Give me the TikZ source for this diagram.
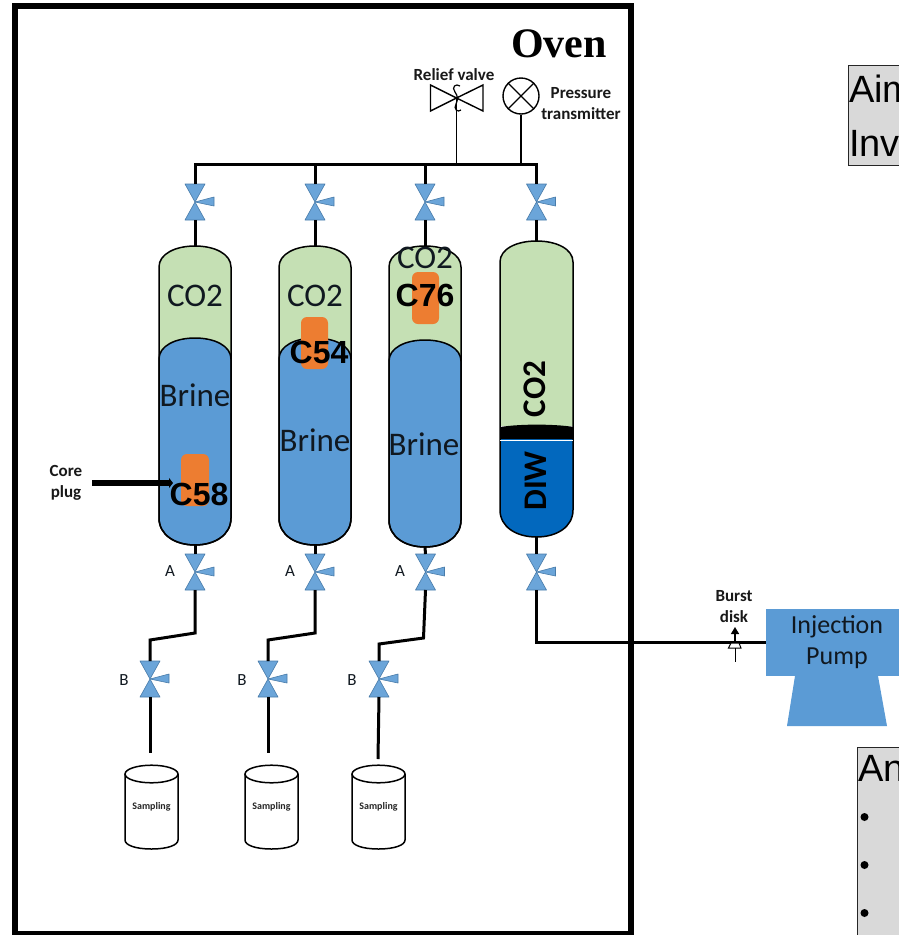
\documentclass[tikz,border=0pt]{standalone}
\usepackage{fontspec}
\setmainfont{Carlito}
\newfontfamily\serifbold{Liberation Serif}
\newfontfamily\arialfont{Liberation Sans}
\usetikzlibrary{arrows.meta}
\definecolor{vblue}{HTML}{5B9BD5}
\definecolor{vgreen}{HTML}{C5E0B4}
\definecolor{vdark}{HTML}{0268BE}
\definecolor{vorange}{HTML}{ED7D31}
\definecolor{vgrey}{HTML}{D9D9D9}
\definecolor{vtext}{HTML}{101820}
\tikzset{
  x=1pt,y=-1pt,
  pipe/.style={draw=black,line width=3pt,line join=miter},
  thinpipe/.style={draw=black,line width=1.4pt},
  valvebody/.style={fill=vblue!90,draw=vblue!80!black,line width=.6pt,line join=round},
  valvebox/.style={rectangle,minimum width=20pt,minimum height=36pt,inner sep=0pt,outer sep=0pt},
  shell/.style={draw=black,line width=1.5pt},
  lbl/.style={font=\fontsize{33}{33}\selectfont,text=vtext,inner sep=0pt},
  core/.style={font=\fontsize{32}{32}\selectfont\arialfont\bfseries,text=black,inner sep=0pt},
  small/.style={font=\fontsize{17}{21}\selectfont\bfseries,text=black!90,inner sep=0pt,align=center},
  tag/.style={font=\fontsize{17}{17}\selectfont,text=vtext,inner sep=0pt},
  samp/.style={font=\fontsize{10}{10}\selectfont\bfseries,text=black!85,inner sep=0pt},
  plug/.style={fill=vorange,rounded corners=6pt,draw=none},
  sidebox/.style={fill=vgrey,draw=black!85,line width=1pt},
  sidetext/.style={font=\fontsize{38}{38}\selectfont\arialfont,text=black,inner sep=0pt,anchor=west},
}
% capsule path: x-centre, half width, top y, bottom y
\newcommand{\capsule}[4]{
  (#1-#2,#3+21) .. controls (#1-#2,#3+8) and (#1-#2*0.55,#3) .. (#1,#3)
  .. controls (#1+#2*0.55,#3) and (#1+#2,#3+8) .. (#1+#2,#3+21)
  -- (#1+#2,#4-27) .. controls (#1+#2,#4-10) and (#1+#2*0.55,#4) .. (#1,#4)
  .. controls (#1-#2*0.55,#4) and (#1-#2,#4-10) .. (#1-#2,#4-27) -- cycle}
% valve: name, x, y
\newcommand{\valve}[3]{
  \node[valvebox] (#1) at (#2,#3) {};
  \path[valvebody] (#2-10,#3-18) -- (#2+10,#3-18) -- (#2,#3) -- (#2+10,#3+18) -- (#2-10,#3+18) -- (#2,#3) -- cycle;
  \path[valvebody] (#2,#3) -- (#2+19,#3-5) -- (#2+19,#3+4) -- cycle;
}
% sampling vessel: name, left x, right x
\newcommand{\sampler}[3]{
  \coordinate (#1) at ({(#2+#3)/2},765);
  \draw[line width=1.5pt,fill=white] (#2,774) -- (#2,840) .. controls (#2,845) and ({#2+10},849) .. ({(#2+#3)/2},849)
     .. controls ({#3-10},849) and (#3,845) .. (#3,840) -- (#3,774);
  \draw[line width=1.5pt,fill=white] ({(#2+#3)/2},774) ellipse (26.5pt and 8.8pt);
  \node[samp] at ({(#2+#3)/2},807) {Sampling};
}
\begin{document}
\begin{tikzpicture}
\useasboundingbox (0,0) rectangle (899,935);
\clip (0,0) rectangle (899,935);
\fill[white] (0,0) rectangle (899,935);

% oven wall
\draw[line width=6pt] (15,6) rectangle (631,934);
\node[font=\fontsize{42}{42}\selectfont\serifbold\bfseries,inner sep=0pt] (oven) at (559,44) {Oven};

% vessels
\begin{scope}
\clip \capsule{195}{36}{246}{545};
\fill[vgreen] (150,240) rectangle (240,550);
\end{scope}
\fill[vblue] \capsule{195}{36}{338}{545};
\draw[shell] \capsule{195}{36}{338}{545};
\draw[shell] \capsule{195}{36}{246}{545};
\coordinate (t1) at (195,246); \coordinate (b1) at (195,545);

\begin{scope}
\clip \capsule{315}{36}{246}{545};
\fill[vgreen] (270,240) rectangle (360,550);
\end{scope}
\fill[vblue] \capsule{315}{36}{338}{545};
\draw[shell] \capsule{315}{36}{338}{545};
\draw[shell] \capsule{315}{36}{246}{545};
\coordinate (t2) at (315,246); \coordinate (b2) at (315,545);

\begin{scope}
\clip \capsule{425}{36}{246}{547};
\fill[vgreen] (380,240) rectangle (470,550);
\end{scope}
\fill[vblue] \capsule{425}{36}{340}{547};
\draw[shell] \capsule{425}{36}{340}{547};
\draw[shell] \capsule{425}{36}{246}{547};
\coordinate (t3) at (425,246); \coordinate (b3) at (425,547);

\begin{scope}
\clip \capsule{536.5}{36.5}{241}{537};
\fill[vgreen] (495,235) rectangle (580,426);
\fill[vdark] (495,438) rectangle (580,540);
\fill[black] (495,428) .. controls (515,423.5) and (558,423.5) .. (580,428) -- (580,439) -- (495,439) -- cycle;
\end{scope}
\draw[shell] \capsule{536.5}{36.5}{241}{537};
\draw[white,line width=.8pt] (500,440) -- (573,440);
\coordinate (t4) at (536.5,241); \coordinate (b4) at (536.5,537);

% core plugs
\path[plug] (181,454) rectangle (209,506);
\path[plug] (301,317) rectangle (328,369);
\path[plug] (412,272) rectangle (439,324);

% vessel texts
\node[lbl] (co1) at (195,296) {CO2};
\node[lbl] (co2) at (315,296) {CO2};
\node[lbl] (co3) at (425,258) {CO2};
\node[lbl] (br1) at (195,395) {Brine};
\node[lbl] (br2) at (315,440) {Brine};
\node[lbl] (br3) at (424,444) {Brine};
\node[core] (c58) at (199,494) {C58};
\node[core] (c54) at (319,352) {C54};
\node[core] (c76) at (425,295) {C76};
\node[font=\fontsize{33}{33}\selectfont\bfseries,inner sep=0pt,rotate=90] (co4) at (535,389) {CO2};
\node[font=\fontsize{33}{33}\selectfont\bfseries,inner sep=0pt,rotate=90] (diw) at (536,481) {DIW};

% upper valves
\valve{vt1}{195}{202}
\valve{vt2}{315}{202}
\valve{vt3}{425}{202}
\valve{vt4}{536.5}{202}
% lower valves
\valve{va1}{195}{572}
\valve{va2}{315}{572}
\valve{va3}{425.5}{572}
\valve{va4}{536.5}{572}
\valve{vb1}{150}{679}
\valve{vb2}{268}{679}
\valve{vb3}{379}{679}

% header
\coordinate (h1) at (195,164);
\coordinate (h4) at (536.5,164);
\draw[pipe,line cap=rect] (h1) -- (h4);
\draw[pipe] (h1) -- (vt1.north);
\draw[pipe] (315,164) -- (vt2.north);
\draw[pipe] (425,164) -- (vt3.north);
\draw[pipe] (h4) -- (vt4.north);
\draw[pipe] (vt1.south) -- (t1);
\draw[pipe] (vt2.south) -- (t2);
\draw[pipe] (vt3.south) -- (t3);
\draw[pipe] (vt4.south) -- (t4);
\draw[pipe] (b1) -- (va1.north);
\draw[pipe] (b2) -- (va2.north);
\draw[pipe] (b3) -- (va3.north);
\draw[pipe] (b4) -- (va4.north);

% drains
\draw[pipe] (va1.south) -- (195,633) -- (150,640) -- (vb1.north);
\draw[pipe] (va2.south) -- (315,633) -- (268,640) -- (vb2.north);
\draw[pipe] (va3.south) -- (423.5,638) -- (379,644) -- (vb3.north);
\coordinate (d1) at (150,753);
\coordinate (d2) at (268,753);
\coordinate (d3) at (378,759);
\draw[pipe] (vb1.south) -- (d1);
\draw[pipe] (vb2.south) -- (d2);
\draw[pipe] (vb3.south) -- (d3);

% valve letters
\node[tag] (la1) at (170,571) {A};
\node[tag] (la2) at (290,571) {A};
\node[tag] (la3) at (400,571) {A};
\node[tag] (lb1) at (124,680) {B};
\node[tag] (lb2) at (242,680) {B};
\node[tag] (lb3) at (352,680) {B};

% sampling
\sampler{s1}{125}{178}
\sampler{s2}{245}{298}
\sampler{s3}{352}{405}

% relief valve and pressure transmitter
\coordinate (rv) at (456.5,98);
\draw[line width=1.4pt,line join=miter] (rv) -- (430.5,85) -- (430.5,111) -- cycle;
\draw[line width=1.4pt,line join=miter] (rv) -- (483,85) -- (483,111) -- cycle;
\draw[line width=1.2pt] (460,86) .. controls (456,83) and (451,87) .. (455,92) .. controls (458,96) and (458,100) .. (456,104) .. controls (453,109) and (458,113) .. (461,110);
\draw[thinpipe] (rv) -- (456.5,164);
\node[circle,draw=black,line width=1.4pt,minimum size=36pt,inner sep=0pt,fill=white] (pt) at (521,96) {};
\draw[line width=1.4pt] (pt.45) -- (pt.225) (pt.135) -- (pt.315);
\draw[thinpipe] (pt.south) -- (521,164);
\node[small] (rvl) at (454,75) {Relief valve};
\node[small] (ptl) at (581,103.5) {Pressure\\transmitter};

% core plug label
\node[small] (cpl) at (66,482.5) {Core\\plug};
\coordinate (cpa) at (173,483);
\coordinate (cps) at (92,483);
\draw[line width=6.5pt,-{Triangle[length=4pt,width=10pt]}] (cps) -- (cpa);

% injection pump
\fill[vblue] (795,676) -- (878,676) -- (887,726) -- (787,726) -- cycle;
\node[rectangle,fill=vblue,minimum width=150pt,minimum height=67pt,inner sep=0pt,outer sep=0pt,anchor=north west] (pump) at (766,609) {};
\node[font=\fontsize{26}{31}\selectfont,text=vtext,align=center,inner sep=0pt] (pumpl) at (837,642.5) {Injection\\Pump};
\draw[pipe] (va4.south) |- (pump.west);

% burst disk
\coordinate (bd) at (735,642);
\draw[line width=1pt,fill=white] (731,643) -- (739,643) -- (741,648) -- (728.5,648) -- cycle;
\draw[line width=1pt] (735,648) -- (735,662);
\draw[line width=1.5pt,-{Triangle[length=7pt,width=8pt]}] (bd) -- (735,627);
\node[small] (bdl) at (734,606.5) {Burst\\disk};

% side boxes, cut by the page edge
\draw[sidebox] (848.5,65) rectangle (960,165);
\node[sidetext] (aim) at (849,89) {Aim};
\node[sidetext] (inv) at (849,143) {Inv};
\draw[sidebox] (857.5,747) rectangle (960,960);
\node[sidetext] (an) at (858,768) {An};
\fill (864.5,817) circle (4pt);
\fill (864.5,865) circle (4pt);
\fill (864.5,913) circle (4pt);
\end{tikzpicture}
\end{document}
